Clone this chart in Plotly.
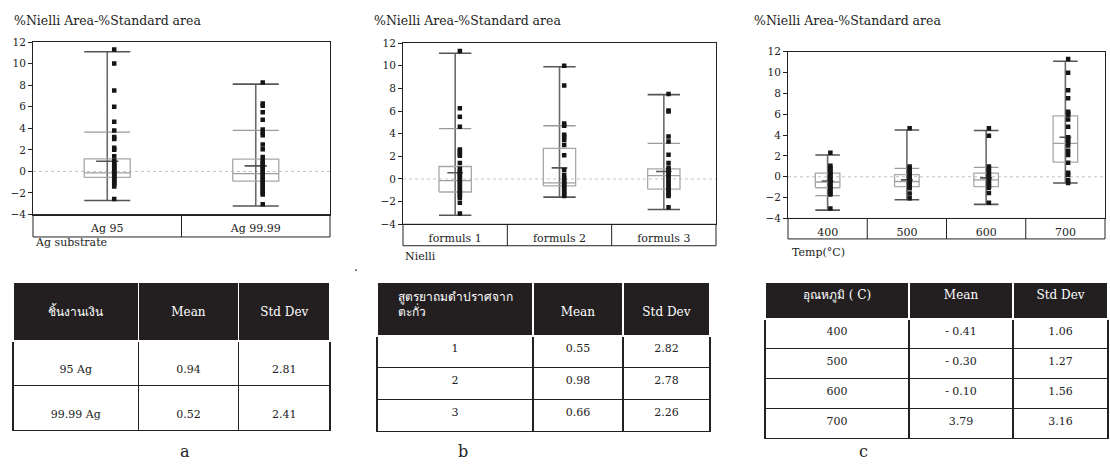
import plotly.graph_objects as go

W, H = 1110, 472

# ---------------- data ----------------
cats_a = ["Ag 95", "Ag 99.99"]
pts_a = [
    [11.3, 10.0, 7.5, 6.0, 4.6, 3.8, 3.2, 3.0, 2.2, 2.0, 1.4, 1.0, 0.8, 0.6, 0.45, 0.3, 0.15, 0.0,
     -0.15, -0.3, -0.45, -0.6, -0.75, -0.9, -1.05, -1.2, -1.4, -2.55],
    [8.25, 6.3, 6.1, 5.5, 4.8, 3.9, 3.6, 3.35, 2.5, 2.05, 1.35, 1.0, 0.8, 0.6, 0.4, 0.2, 0.0, -0.2,
     -0.4, -0.6, -0.8, -1.0, -1.2, -1.4, -1.6, -1.8, -2.0, -2.15, -3.05],
]
q1_a = [-0.56, -0.9]
med_a = [-0.13, -0.2]
q3_a = [1.17, 1.15]
lo_a = [-2.7, -3.2]
hi_a = [11.1, 8.1]
refhi_a = [3.65, 3.8]
reflo_a = [None, None]

cats_b = ["formuls 1", "formuls 2", "formuls 3"]
pts_b = [
    [11.3, 6.25, 5.5, 4.6, 2.6, 2.45, 2.2, 2.05, 1.4, 0.9, 0.7, 0.5, 0.3, 0.1, -0.1, -0.3, -0.5, -0.7,
     -0.9, -1.1, -1.3, -1.5, -1.65, -2.1, -3.05],
    [10.0, 8.25, 4.9, 4.7, 3.9, 3.7, 3.45, 3.0, 2.1, 0.8, 0.35, 0.05, -0.15, -0.35, -0.55, -0.75,
     -0.95, -1.15, -1.35, -1.5],
    [7.5, 6.05, 5.95, 3.75, 3.3, 2.15, 1.4, 1.0, 0.8, 0.6, 0.4, 0.2, 0.0, -0.2, -0.4, -0.6, -0.8,
     -1.0, -1.2, -1.4, -1.5, -2.5],
]
q1_b = [-1.15, -0.6, -0.9]
med_b = [-0.15, -0.35, 0.3]
q3_b = [1.1, 2.7, 0.9]
lo_b = [-3.2, -1.6, -2.7]
hi_b = [11.1, 9.9, 7.45]
refhi_b = [4.45, 4.7, 3.15]
reflo_b = [None, None, None]

cats_c = ["400", "500", "600", "700"]
pts_c = [
    [2.3, 1.05, 0.85, 0.65, 0.45, 0.25, 0.05, -0.15, -0.35, -0.55, -0.75, -0.95, -1.15, -1.35,
     -1.55, -1.7, -3.05],
    [4.65, 1.0, 0.8, 0.6, 0.4, 0.2, 0.0, -0.2, -0.4, -0.6, -0.8, -1.0, -1.1, -1.6, -2.05],
    [4.65, 3.95, 1.0, 0.8, 0.55, 0.3, 0.1, -0.1, -0.3, -0.5, -0.7, -0.9, -1.05, -1.55, -2.5],
    [11.3, 10.0, 8.3, 7.55, 6.25, 6.1, 5.95, 5.5, 4.8, 3.8, 3.5, 3.3, 3.0, 2.5, 2.1, 1.35, 0.4,
     0.2, -0.3, -0.6],
]
q1_c = [-1.05, -0.95, -0.95, 1.4]
med_c = [-0.5, -0.45, -0.3, 3.2]
q3_c = [0.35, 0.2, 0.35, 5.85]
lo_c = [-3.2, -2.2, -2.65, -0.6]
hi_c = [2.1, 4.5, 4.45, 11.1]
refhi_c = [None, 0.8, 0.9, None]
reflo_c = [-1.8, None, None, None]

# table data
tab_a_head = ["ชิ้นงานเงิน", "Mean", "Std Dev"]
tab_a_rows = ["95 Ag", "99.99 Ag"]
mean_a = [0.94, 0.52]
sd_a = [2.81, 2.41]

tab_b_head = ["สูตรยาถมดำปราศจาก<br>ตะกั่ว", "Mean", "Std Dev"]
tab_b_rows = ["1", "2", "3"]
mean_b = [0.55, 0.98, 0.66]
sd_b = [2.82, 2.78, 2.26]

tab_c_head = ["อุณหภูมิ ( C)", "Mean", "Std Dev"]
tab_c_rows = ["400", "500", "600", "700"]
mean_c = [-0.41, -0.30, -0.10, 3.79]
sd_c = [1.06, 1.27, 1.56, 3.16]

y_title = "%Nielli Area-%Standard area"
x_titles = ["Ag substrate", "Nielli", "Temp(°C)"]
panel_letters = ["a", "b", "c"]
y_ticks = [-4, -2, 0, 2, 4, 6, 8, 10, 12]

# ---------------- style ----------------
SERIF = "DejaVu Serif"
BOX_HW = 0.155
MEAN_HW = 0.075

fig = go.Figure()


def px_x(p):
    return p / W


def px_y(p):
    return 1 - p / H


def seg_trace(xs, ys, color, width, xa, ya, dash="solid"):
    return go.Scatter(x=xs, y=ys, mode="lines", line=dict(color=color, width=width, dash=dash),
                      xaxis=xa, yaxis=ya, showlegend=False, hoverinfo="skip", connectgaps=False)


def add_panel(k, cats, pts, q1, med, q3, lo, hi, mean, refhi, reflo, pt_off):
    xa = "x" if k == 1 else f"x{k}"
    ya = "y" if k == 1 else f"y{k}"
    wx, wy = [], []
    for i in range(len(cats)):
        wx += [i, i, None]
        wy += [lo[i], hi[i], None]
    fig.add_trace(seg_trace(wx, wy, "#6a6a6a", 1.6, xa, ya))
    bx, by = [], []
    for i in range(len(cats)):
        bx += [i - BOX_HW, i + BOX_HW, i + BOX_HW, i - BOX_HW, i - BOX_HW, None]
        by += [q1[i], q1[i], q3[i], q3[i], q1[i], None]
    fig.add_trace(seg_trace(bx, by, "#a8a8a8", 1.3, xa, ya))
    mx, my = [], []
    for i in range(len(cats)):
        mx += [i - BOX_HW, i + BOX_HW, None]
        my += [med[i], med[i], None]
    fig.add_trace(seg_trace(mx, my, "#a0a0a0", 1.3, xa, ya))
    rx, ry = [], []
    for i in range(len(cats)):
        for v in (refhi[i], reflo[i]):
            if v is not None:
                rx += [i - BOX_HW, i + BOX_HW, None]
                ry += [v, v, None]
    if rx:
        fig.add_trace(seg_trace(rx, ry, "#9a9a9a", 1.3, xa, ya))
    cx, cy = [], []
    for i in range(len(cats)):
        for v in (lo[i], hi[i]):
            cx += [i - BOX_HW, i + BOX_HW, None]
            cy += [v, v, None]
    fig.add_trace(seg_trace(cx, cy, "#555555", 1.6, xa, ya))
    ex, ey = [], []
    for i in range(len(cats)):
        ex += [i - MEAN_HW, i + MEAN_HW, None]
        ey += [mean[i], mean[i], None]
    fig.add_trace(seg_trace(ex, ey, "#555555", 1.6, xa, ya))
    px_, py_ = [], []
    for i in range(len(cats)):
        px_ += [i + pt_off] * len(pts[i])
        py_ += pts[i]
    fig.add_trace(go.Scatter(x=px_, y=py_, mode="markers",
                             marker=dict(symbol="square", size=4.5, color="#151515"),
                             xaxis=xa, yaxis=ya, showlegend=False, hoverinfo="skip"))


add_panel(1, cats_a, pts_a, q1_a, med_a, q3_a, lo_a, hi_a, mean_a, refhi_a, reflo_a, 0.047)
add_panel(2, cats_b, pts_b, q1_b, med_b, q3_b, lo_b, hi_b, mean_b, refhi_b, reflo_b, 0.045)
add_panel(3, cats_c, pts_c, q1_c, med_c, q3_c, lo_c, hi_c, mean_c, refhi_c, reflo_c, 0.035)

panels = [
    dict(x0=33, x1=330, y0=37, y1=214, strip=23, cats=cats_a, title_x=12, title_y=15,
         xt_x=33, xt_y=243),
    dict(x0=403, x1=716, y0=38, y1=224, strip=22, cats=cats_b, title_x=372, title_y=15,
         xt_x=403, xt_y=257),
    dict(x0=788, x1=1105, y0=47, y1=218, strip=21, cats=cats_c, title_x=752, title_y=15,
         xt_x=790, xt_y=253),
]

layout = dict(width=W, height=H, margin=dict(l=0, r=0, t=0, b=0), autosize=False,
              paper_bgcolor="white", plot_bgcolor="white", showlegend=False,
              font=dict(family=SERIF, color="#222", size=11))
shapes = []
annotations = []
for k, p in enumerate(panels, start=1):
    xkey = "xaxis" if k == 1 else f"xaxis{k}"
    ykey = "yaxis" if k == 1 else f"yaxis{k}"
    xa = "x" if k == 1 else f"x{k}"
    ya = "y" if k == 1 else f"y{k}"
    n = len(p["cats"])
    layout[xkey] = dict(domain=[px_x(p["x0"]), px_x(p["x1"])], anchor=ya,
                        range=[-0.5, n - 0.5], showgrid=False, zeroline=False,
                        showline=True, mirror=True, linecolor="#222", linewidth=1,
                        tickvals=list(range(n)), ticktext=p["cats"], ticks="",
                        tickfont=dict(family=SERIF, size=11, color="#222"),
                        ticklabelstandoff=3, fixedrange=True)
    layout[ykey] = dict(domain=[px_y(p["y1"]), px_y(p["y0"])], anchor=xa,
                        range=[-4, 12], showgrid=False, zeroline=False,
                        showline=True, mirror=True, linecolor="#222", linewidth=1,
                        tickvals=y_ticks, ticks="outside", ticklen=4, tickcolor="#222",
                        tickfont=dict(family=SERIF, size=10.5, color="#222"), fixedrange=True)
    ph = p["y1"] - p["y0"]
    sh = p["strip"] / ph
    shapes.append(dict(type="line", xref=f"{xa} domain", yref=ya, x0=0, x1=1, y0=0, y1=0,
                       line=dict(color="#c4c4c4", width=1, dash="dot"), layer="below"))
    shapes.append(dict(type="rect", xref=f"{xa} domain", yref=f"{ya} domain", x0=0, x1=1,
                       y0=-sh, y1=0, line=dict(color="#222", width=1)))
    for i in range(n - 1):
        shapes.append(dict(type="line", xref=xa, yref=f"{ya} domain", x0=i + 0.5, x1=i + 0.5,
                           y0=-sh, y1=0, line=dict(color="#222", width=1)))
    annotations.append(dict(text=y_title, xref="paper", yref="paper", x=px_x(p["title_x"]),
                            y=px_y(p["title_y"]), xanchor="left", yanchor="middle",
                            showarrow=False, font=dict(family=SERIF, size=12.5, color="#222")))
    annotations.append(dict(text=x_titles[k - 1], xref="paper", yref="paper",
                            x=px_x(p["xt_x"]), y=px_y(p["xt_y"]), xanchor="left",
                            yanchor="middle", showarrow=False,
                            font=dict(family=SERIF, size=11, color="#222")))

# ---------------- tables ----------------
NB = "\u00a0<br>"   # blank leading line: pushes text toward the middle of tall cells
tables = [
    dict(head=tab_a_head, rows=tab_a_rows, mean=mean_a, sd=sd_a, x0=13, x1=330, y0=283,
         cw=[125, 100, 91], hh=59, ch=45, hpad=[1, 1, 1], cpad=1, neg_space=False),
    dict(head=tab_b_head, rows=tab_b_rows, mean=mean_b, sd=sd_b, x0=377, x1=710, y0=283,
         cw=[156, 90, 87], hh=54, ch=32, hpad=[0, 1, 1], cpad=0, neg_space=False),
    dict(head=tab_c_head, rows=tab_c_rows, mean=mean_c, sd=sd_c, x0=765, x1=1108, y0=283,
         cw=[144, 104, 95], hh=37, ch=30, hpad=[0, 0, 0], cpad=0, neg_space=True),
]
for t in tables:
    if t["neg_space"]:
        means = [("- {:.2f}".format(-v) if v < 0 else "{:.2f}".format(v)) for v in t["mean"]]
    else:
        means = ["{:.2f}".format(v) for v in t["mean"]]
    sds = ["{:.2f}".format(v) for v in t["sd"]]
    head = [NB * p + h for p, h in zip(t["hpad"], t["head"])]
    cp = NB * t["cpad"]
    cols = [[cp + s for s in col] for col in (t["rows"], means, sds)]
    y_end = t["y0"] + t["hh"] + len(t["rows"]) * t["ch"]
    fig.add_trace(go.Table(
        domain=dict(x=[px_x(t["x0"]), px_x(t["x1"])], y=[px_y(y_end + 20), px_y(t["y0"])]),
        columnwidth=t["cw"],
        header=dict(values=head, fill_color="#231f20", line=dict(color="white", width=1.5),
                    font=dict(family=SERIF, size=12, color="white"), align="center",
                    height=t["hh"]),
        cells=dict(values=cols, fill_color="white",
                   line=dict(color="#222", width=1.3),
                   font=dict(family=SERIF, size=11, color="#222"), align="center",
                   height=t["ch"]),
    ))

for i, letter in enumerate(panel_letters):
    xpos = [185, 463, 863][i]
    annotations.append(dict(text=letter, xref="paper", yref="paper", x=px_x(xpos), y=px_y(457),
                            xanchor="center", yanchor="middle", showarrow=False,
                            font=dict(family=SERIF, size=16, color="#222")))
annotations.append(dict(text=".", xref="paper", yref="paper", x=px_x(356), y=px_y(268),
                        xanchor="center", yanchor="middle", showarrow=False,
                        font=dict(family=SERIF, size=12, color="#222")))

layout["shapes"] = shapes
layout["annotations"] = annotations
fig.update_layout(**layout)
fig.write_html("out.html")
